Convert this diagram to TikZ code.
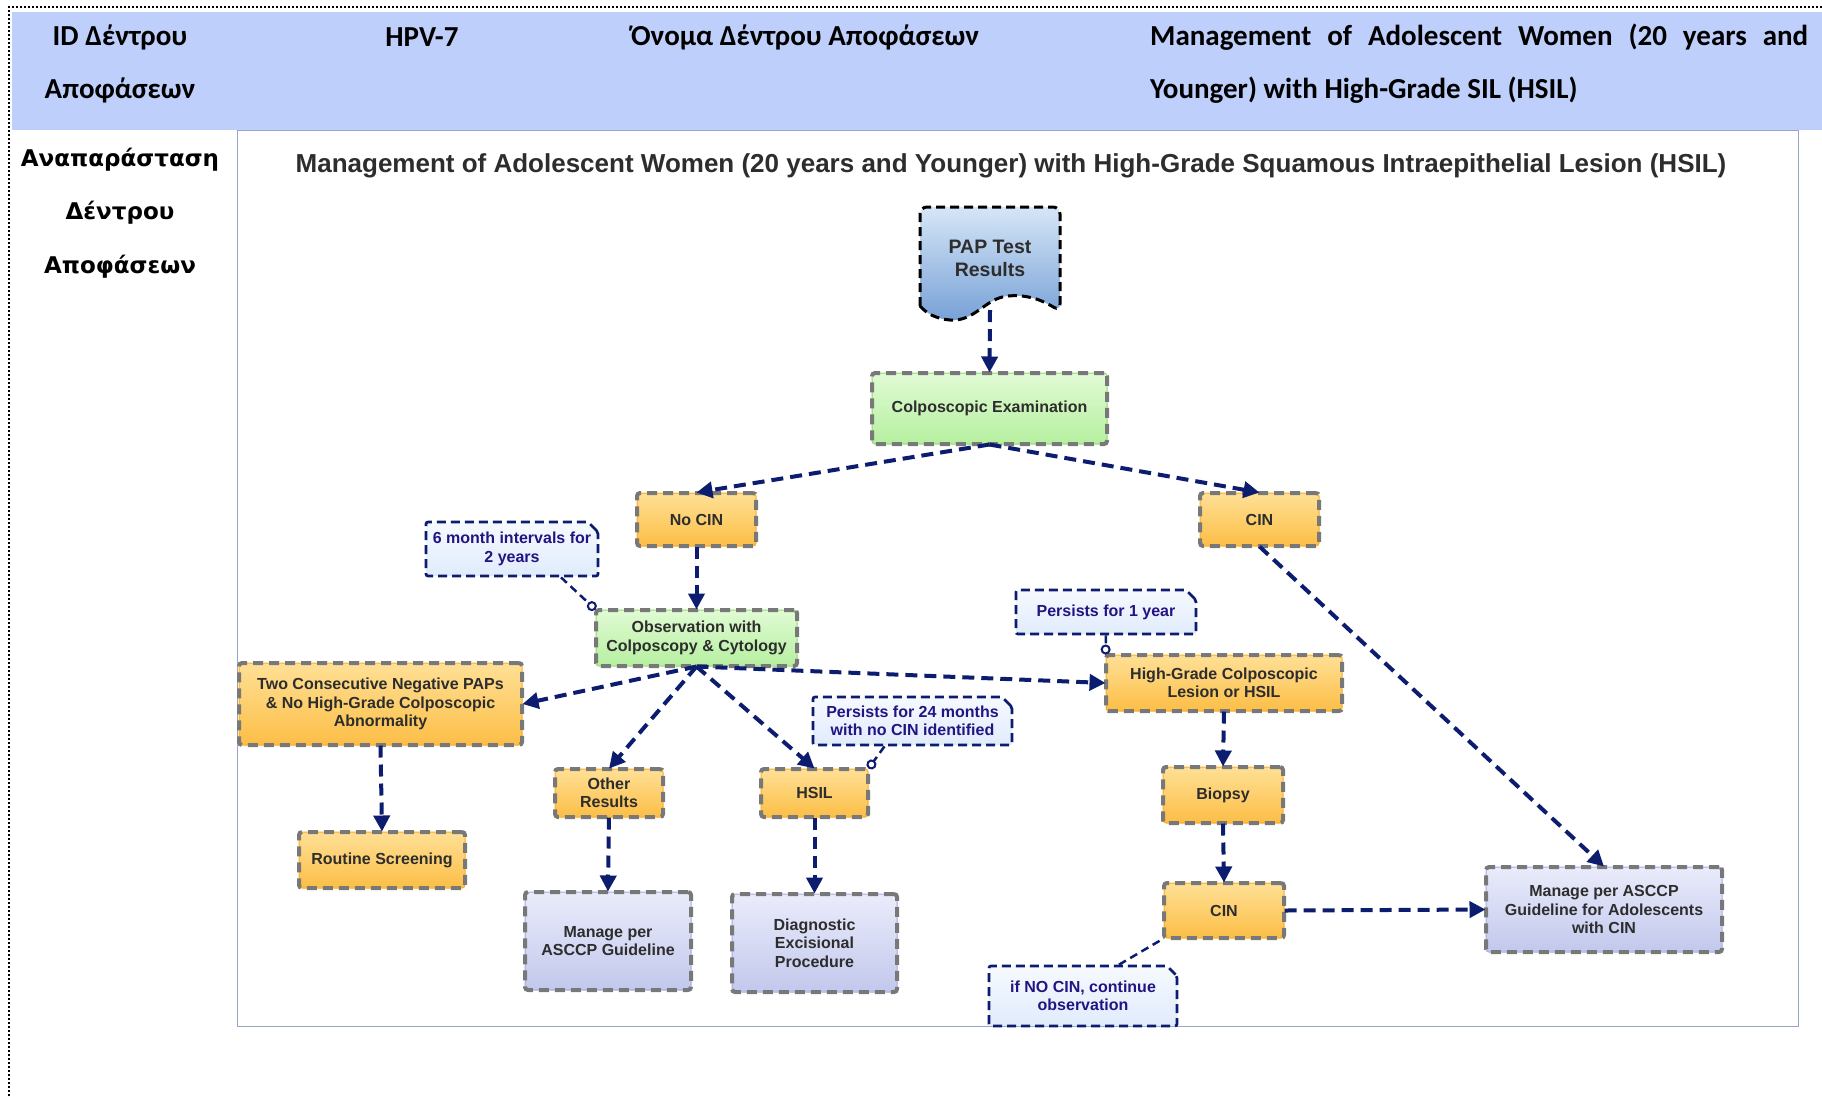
\documentclass[tikz,border=0pt]{standalone}
\usepackage{fontspec}
\setmainfont{Liberation Sans}
\newfontfamily\hdrfont{Carlito}
\newfontfamily\sidefont{DejaVu Sans}
\usetikzlibrary{arrows.meta,shapes.misc}

\definecolor{navy}{RGB}{12,28,110}
\definecolor{hdrband}{RGB}{191,207,251}
\definecolor{frameline}{RGB}{150,165,200}
\definecolor{ortop}{RGB}{255,224,150}
\definecolor{orbot}{RGB}{252,190,70}
\definecolor{oredge}{RGB}{255,170,30}
\definecolor{grtop}{RGB}{224,251,212}
\definecolor{grbot}{RGB}{182,239,160}
\definecolor{gredge}{RGB}{140,220,110}
\definecolor{lvtop}{RGB}{234,236,251}
\definecolor{lvbot}{RGB}{194,200,236}
\definecolor{lvedge}{RGB}{160,170,230}
\definecolor{nttop}{RGB}{246,250,255}
\definecolor{ntbot}{RGB}{224,235,252}
\definecolor{dashgray}{RGB}{120,120,120}
\definecolor{txt}{RGB}{45,45,45}
\definecolor{notetxt}{RGB}{36,20,130}
\definecolor{paptop}{RGB}{214,230,247}
\definecolor{papbot}{RGB}{118,160,214}

\tikzset{
  box/.style={rectangle, rounded corners=3pt, inner sep=0pt, align=center,
    font=\fontsize{16}{18.5}\selectfont\bfseries, text=txt, line width=1pt,
    postaction={draw=dashgray, line width=4pt, dash pattern=on 10pt off 6pt}},
  orbox/.style={box, top color=ortop, bottom color=orbot, draw=oredge},
  grbox/.style={box, top color=grtop, bottom color=grbot, draw=gredge},
  lvbox/.style={box, top color=lvtop, bottom color=lvbot, draw=lvedge},
  notebox/.style={chamfered rectangle, chamfered rectangle corners=north east,
    chamfered rectangle xsep=5pt, chamfered rectangle ysep=5pt,
    rounded corners=2pt, inner sep=0pt, align=center,
    font=\fontsize{16}{18.5}\selectfont\bfseries, text=notetxt,
    top color=nttop, bottom color=ntbot, draw=navy, line width=2.7pt,
    dash pattern=on 9pt off 5pt},
  flow/.style={draw=navy, line width=4pt, dash pattern=on 12pt off 7pt,
    -{Triangle[length=16pt,width=16pt]}},
  link/.style={draw=navy, line width=2.5pt, dash pattern=on 8pt off 5pt,
    -{Circle[length=10pt, fill=white, line width=2pt]}},
  hdr/.style={inner sep=0pt, font=\hdrfont\fontsize{29}{33}\selectfont\bfseries, text=black},
  side/.style={inner sep=0pt, font=\sidefont\fontsize{23}{27}\selectfont\bfseries, text=black},
}

\begin{document}
\begin{tikzpicture}[x=1pt,y=-1pt]
\useasboundingbox (0,0) rectangle (1822,1096);
\fill[white] (0,0) rectangle (1822,1096);

% header band and outer dotted border
\fill[hdrband] (12,12) rectangle (1822,130);
\draw[black, line width=1.6pt, dash pattern=on 2pt off 2pt] (9,1096) -- (9,7) -- (1822,7);

% diagram frame
\draw[frameline, line width=1pt] (237,130) rectangle (1798,1026);

% header texts
\node[hdr] (hid) at (120,37.5) {ID Δέντρου};
\node[hdr] (hid2) at (120,90.5) {Αποφάσεων};
\node[hdr] (hcode) at (422,37.5) {HPV-7};
\node[hdr] (hname) at (805,37.5) {Όνομα Δέντρου Αποφάσεων};
\node[hdr, anchor=west] (htitle) at (1150,37.5) {\makebox[658pt][s]{Management of Adolescent Women (20 years and}};
\node[hdr, anchor=west] (htitle2) at (1150,90.5) {Younger) with High-Grade SIL (HSIL)};

% side label
\node[side] (s1) at (120,160) {Αναπαράσταση};
\node[side] (s2) at (120,213) {Δέντρου};
\node[side] (s3) at (120,267) {Αποφάσεων};

% diagram title
\node[inner sep=0pt, font=\fontsize{26}{30}\selectfont\bfseries, text=txt] (title) at (1011,166)
  {Management of Adolescent Women (20 years and Younger) with High-Grade Squamous Intraepithelial Lesion (HSIL)};

% document shape
\draw[top color=paptop, bottom color=papbot, draw=black, line width=3pt, dash pattern=on 9pt off 5pt]
  [rounded corners=7pt] (920,306) -- (920,207) -- (1060,207) -- (1060,311)
  [sharp corners] .. controls (1045,302) and (1030,294) .. (1008,296)
  .. controls (985,298) and (975,322) .. (950,320)
  .. controls (936,319) and (926,313) .. (920,306) -- cycle;
\node[inner sep=0pt, align=center, font=\fontsize{19.5}{23}\selectfont\bfseries, text=txt] (pap) at (990,258) {PAP Test\\Results};
\coordinate (papb) at (990,310);

% boxes
\node[grbox, minimum width=235pt, minimum height=71pt] (colpo) at (989.5,408.5) {Colposcopic Examination};
\node[orbox, minimum width=119pt, minimum height=53pt] (nocin) at (696.5,519.5) {No CIN};
\node[orbox, minimum width=119pt, minimum height=53pt] (cin1) at (1259.5,519.5) {CIN};
\node[notebox, minimum width=172pt, minimum height=54pt] (note6) at (512,549) {6 month intervals for\\2 years};
\node[grbox, minimum width=201pt, minimum height=56pt] (obs) at (696.5,638) {Observation with\\Colposcopy \& Cytology};
\node[notebox, minimum width=180pt, minimum height=44pt] (note1) at (1106,612) {Persists for 1 year};
\node[orbox, minimum width=236pt, minimum height=56pt] (hg) at (1224,683) {High-Grade Colposcopic\\Lesion or HSIL};
\node[orbox, minimum width=283pt, minimum height=82pt] (two) at (380.5,704) {Two Consecutive Negative PAPs\\\& No High-Grade Colposcopic\\Abnormality};
\node[notebox, minimum width=199pt, minimum height=48pt] (note24) at (912.5,721) {Persists for 24 months\\with no CIN identified};
\node[orbox, minimum width=108pt, minimum height=48pt] (other) at (609,793) {Other\\Results};
\node[orbox, minimum width=107pt, minimum height=48pt] (hsil) at (814.5,793) {HSIL};
\node[orbox, minimum width=120pt, minimum height=56pt] (biopsy) at (1223,795) {Biopsy};
\node[orbox, minimum width=166pt, minimum height=56pt] (routine) at (382,860) {Routine Screening};
\node[lvbox, minimum width=166pt, minimum height=98pt] (manage) at (608,941) {Manage per\\ASCCP Guideline};
\node[lvbox, minimum width=165pt, minimum height=98pt] (diag) at (814.5,943) {Diagnostic\\Excisional\\Procedure};
\node[orbox, minimum width=120pt, minimum height=55pt] (cin2) at (1224,910.5) {CIN};
\node[lvbox, minimum width=236pt, minimum height=85pt] (mcin) at (1604,909.5) {Manage per ASCCP\\Guideline for Adolescents\\with CIN};
\node[notebox, minimum width=188pt, minimum height=60pt] (notenc) at (1083,996) {if NO CIN, continue\\observation};

% flow connectors
\draw[flow] (papb) -- (colpo.north);
\draw[flow] (colpo.south) -- (nocin.north);
\draw[flow] (colpo.south) -- (cin1.north);
\draw[flow] (nocin.south) -- (obs.north);
\draw[flow] (obs.south) -- (two.east);
\draw[flow] (obs.south) -- (other.north);
\draw[flow] (obs.south) -- (hsil.north);
\draw[flow] (obs.south) -- (hg.west);
\draw[flow] (two.south) -- (routine.north);
\draw[flow] (other.south) -- (manage.north);
\draw[flow] (hsil.south) -- (diag.north);
\draw[flow] (hg.south) -- (biopsy.north);
\draw[flow] (biopsy.south) -- (cin2.north);
\draw[flow] (cin2.east) -- (mcin.west);
\draw[flow] (cin1.south) -- (mcin.north);

% note connectors
\draw[link] ([xshift=49pt]note6.south) -- (obs.north west);
\draw[link] ([xshift=-28pt]note24.south) -- (hsil.north east);
\draw[link] (note1.south) -- (hg.north west);
\draw[link, -] ([xshift=36pt]notenc.north) -- (cin2.south west);
\end{tikzpicture}
\end{document}
